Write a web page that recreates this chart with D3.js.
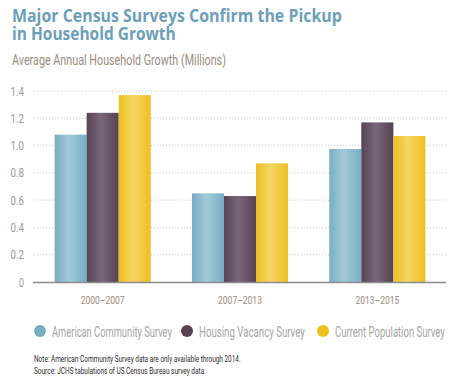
<!DOCTYPE html>
<html>
<head>
<meta charset="utf-8">
<script src="https://cdn.jsdelivr.net/npm/d3@7"></script>
<style>
  body { margin: 0; background: #fff; }
  svg { display: block; }
  .cond { font-family: Roboto, "DejaVu Sans", sans-serif; }
</style>
</head>
<body>
<svg id="chart" width="458" height="387"></svg>
<script>
// Data
var periods = ["2000\u20132007", "2007\u20132013", "2013\u20132015"];
var surveys = ["American Community Survey", "Housing Vacancy Survey", "Current Population Survey"];
var acs = [1.08, 0.65, 0.975];
var hvs = [1.24, 0.63, 1.17];
var cps = [1.37, 0.87, 1.07];
var yTicks = [0, 0.2, 0.4, 0.6, 0.8, 1.0, 1.2, 1.4];

var seriesValues = [acs, hvs, cps];
var colours = ["#78aec3", "#574256", "#ecc021"];
var lights = ["#a3c9d8", "#7a6678", "#f5d564"];

var width = 458, height = 387;
var margin = {top: 91, left: 34, right: 12, bottom: 105};

var svg = d3.select("#chart");
var defs = svg.append("defs");

// place a text at (x, y) and squeeze it horizontally to width w
// (the original uses a condensed face we don't have)
function placeFit(sel, x, y, w) {
    var len = sel.node().getComputedTextLength();
    var k = w ? w / len : 1;
    sel.attr("x", 0).attr("y", 0)
        .attr("transform", "translate(" + x + "," + y + ") scale(" + k + ",1)");
}

// horizontal gradients for the bars
colours.forEach(function(c, i) {
    var g = defs.append("linearGradient")
        .attr("id", "grad" + i)
        .attr("x1", "0%").attr("x2", "100%")
        .attr("y1", "0%").attr("y2", "0%");
    g.append("stop").attr("offset", "0%").attr("stop-color", c);
    g.append("stop").attr("offset", "45%").attr("stop-color", lights[i]);
    g.append("stop").attr("offset", "100%").attr("stop-color", c);
});

// Title
svg.append("text")
    .attr("font-family", "Open Sans, sans-serif")
    .attr("font-weight", "bold")
    .attr("font-size", 17.5)
    .attr("fill", "#6c9fb9")
    .text("Major Census Surveys Confirm the Pickup")
    .call(placeFit, 12, 22, 330);
svg.append("text")
    .attr("font-family", "Open Sans, sans-serif")
    .attr("font-weight", "bold")
    .attr("font-size", 17.5)
    .attr("fill", "#6c9fb9")
    .text("in Household Growth")
    .call(placeFit, 12, 40, 164);
svg.append("text")
    .attr("class", "cond")
    .attr("font-size", 14.5)
    .attr("fill", "#9d8c7c")
    .text("Average Annual Household Growth (Millions)")
    .call(placeFit, 12, 65, 214);

// Scales
var x0 = d3.scaleBand()
    .domain(periods)
    .range([margin.left, width - margin.right])
    .paddingInner(0.3)
    .paddingOuter(0.15);

var x1 = d3.scaleBand()
    .domain(d3.range(surveys.length))
    .range([0, x0.bandwidth()]);

var y = d3.scaleLinear()
    .domain([0, 1.4])
    .range([282, 91]);

// Gridlines
svg.append("g")
    .selectAll("line")
    .data(yTicks.filter(function(d) { return d > 0; }))
    .enter()
    .append("line")
    .attr("x1", margin.left)
    .attr("x2", width - margin.right)
    .attr("y1", function(d) { return y(d); })
    .attr("y2", function(d) { return y(d); })
    .attr("stroke", "#c8c8c8")
    .attr("stroke-width", 1)
    .attr("stroke-dasharray", "1,2");

// Y tick labels
svg.append("g")
    .selectAll("text")
    .data(yTicks)
    .enter()
    .append("text")
    .attr("class", "cond")
    .attr("text-anchor", "end")
    .attr("font-size", 12)
    .attr("fill", "#9a9a9a")
    .text(function(d) { return d === 0 ? "0" : d3.format(".1f")(d); })
    .each(function(d) {
        d3.select(this).call(placeFit, 24, y(d) + 4.5, d === 0 ? 5 : 13.5);
    });

// Bars
var groups = svg.append("g")
    .selectAll("g")
    .data(periods)
    .enter()
    .append("g")
    .attr("transform", function(d) { return "translate(" + x0(d) + ",0)"; });

groups.selectAll("rect")
    .data(function(d, i) {
        return seriesValues.map(function(s, k) { return {k: k, value: s[i]}; });
    })
    .enter()
    .append("rect")
    .attr("x", function(d) { return x1(d.k); })
    .attr("width", x1.bandwidth())
    .attr("y", function(d) { return y(d.value); })
    .attr("height", function(d) { return y(0) - y(d.value); })
    .attr("fill", function(d) { return "url(#grad" + d.k + ")"; });

// Baseline
svg.append("line")
    .attr("x1", margin.left - 1)
    .attr("x2", width - margin.right)
    .attr("y1", y(0) + 0.5)
    .attr("y2", y(0) + 0.5)
    .attr("stroke", "#8c8c8c")
    .attr("stroke-width", 1.5);

// Category labels
svg.append("g")
    .selectAll("text")
    .data(periods)
    .enter()
    .append("text")
    .attr("class", "cond")
    .attr("text-anchor", "middle")
    .attr("font-size", 11.5)
    .attr("fill", "#9d8c7c")
    .text(function(d) { return d; })
    .each(function(d) {
        d3.select(this).call(placeFit, x0(d) + x0.bandwidth() / 2, 304, 44);
    });

// Legend
var legendX = [40, 187, 323];
var legendW = [120, 106, 110];
var legend = svg.append("g")
    .selectAll("g")
    .data(surveys)
    .enter()
    .append("g")
    .attr("transform", function(d, i) { return "translate(" + legendX[i] + ",331)"; });

legend.append("circle")
    .attr("r", 6)
    .attr("fill", function(d, i) { return colours[i]; });

legend.append("text")
    .attr("class", "cond")
    .attr("font-size", 15)
    .attr("fill", "#a5a5a5")
    .text(function(d) { return d; })
    .each(function(d, i) { d3.select(this).call(placeFit, 12, 5.5, legendW[i]); });

// Notes
svg.append("text")
    .attr("class", "cond")
    .attr("font-size", 9.5)
    .attr("fill", "#2a2a2a")
    .text("Note: American Community Survey data are only available through 2014.")
    .call(placeFit, 34, 362, 207);
svg.append("text")
    .attr("class", "cond")
    .attr("font-size", 9.5)
    .attr("fill", "#2a2a2a")
    .text("Source: JCHS tabulations of US Census Bureau survey data.")
    .call(placeFit, 34, 374, 172);
</script>
</body>
</html>
